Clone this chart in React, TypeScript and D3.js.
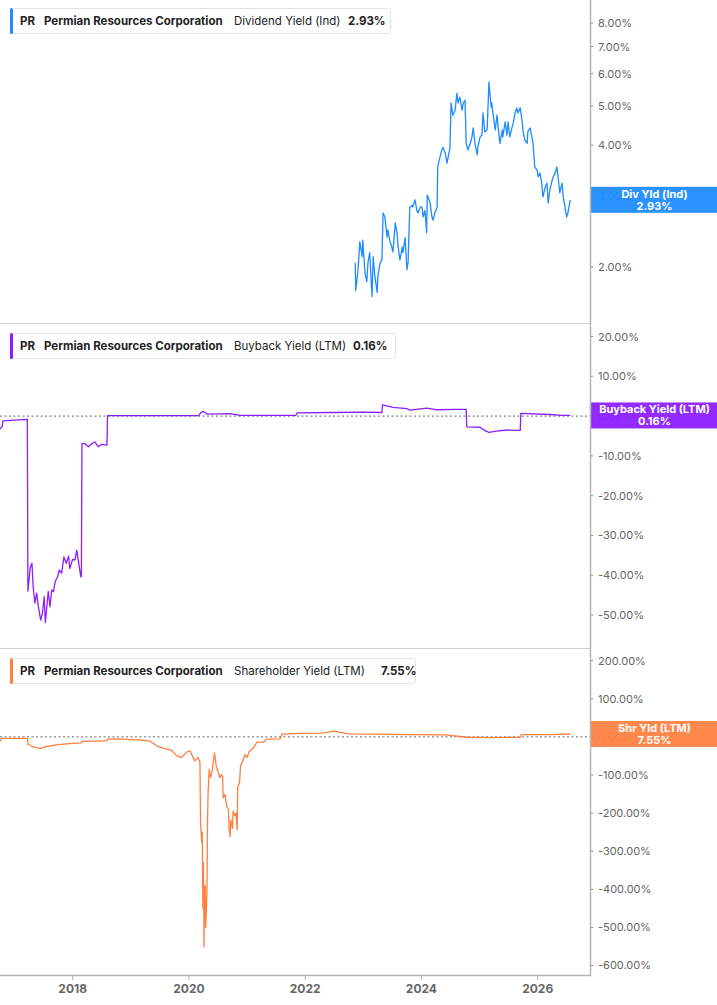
import React from "react";
import * as d3 from "d3";

// ---------- DATA ----------
const xTickYears = [2018, 2020, 2022, 2024, 2026];

const divTicks = [2, 3, 4, 5, 6, 7, 8];
const bbTicks = [20, 10, 0, -10, -20, -30, -40, -50];
const shTicks = [200, 100, 0, -100, -200, -300, -400, -500, -600];

const divYears = [2022.86, 2022.87, 2022.91, 2022.94, 2022.98, 2022.99, 2023.03, 2023.06, 2023.08, 2023.11, 2023.15, 2023.17, 2023.2, 2023.24, 2023.25, 2023.29, 2023.32, 2023.34, 2023.37, 2023.41, 2023.42, 2023.46, 2023.49, 2023.51, 2023.55, 2023.58, 2023.6, 2023.63, 2023.67, 2023.68, 2023.72, 2023.75, 2023.77, 2023.8, 2023.84, 2023.85, 2023.89, 2023.92, 2023.94, 2023.98, 2024.01, 2024.03, 2024.06, 2024.09, 2024.1, 2024.15, 2024.18, 2024.2, 2024.23, 2024.27, 2024.28, 2024.32, 2024.35, 2024.37, 2024.41, 2024.44, 2024.46, 2024.49, 2024.51, 2024.54, 2024.58, 2024.61, 2024.63, 2024.66, 2024.7, 2024.72, 2024.75, 2024.77, 2024.8, 2024.84, 2024.87, 2024.89, 2024.92, 2024.96, 2024.97, 2025.01, 2025.04, 2025.06, 2025.09, 2025.13, 2025.15, 2025.16, 2025.2, 2025.21, 2025.23, 2025.27, 2025.3, 2025.32, 2025.35, 2025.39, 2025.4, 2025.44, 2025.47, 2025.49, 2025.52, 2025.56, 2025.58, 2025.61, 2025.64, 2025.66, 2025.7, 2025.73, 2025.75, 2025.78, 2025.82, 2025.83, 2025.87, 2025.9, 2025.92, 2025.95, 2025.99, 2026.01, 2026.04, 2026.07, 2026.09, 2026.13, 2026.16, 2026.18, 2026.21, 2026.25, 2026.26, 2026.3, 2026.33, 2026.35, 2026.38, 2026.42, 2026.44, 2026.47, 2026.5, 2026.52, 2026.56];
const divYield = [2.05, 1.75, 1.97, 2.31, 2.12, 2.33, 1.93, 1.84, 2.05, 2.17, 1.69, 2.12, 1.89, 1.73, 1.89, 2.05, 2.08, 2.72, 2.66, 2.37, 2.47, 2.31, 2.24, 2.18, 2.57, 2.43, 2.24, 2.08, 2.24, 2.17, 2.36, 1.97, 2.05, 2.81, 2.84, 2.81, 2.93, 2.76, 2.72, 2.81, 2.81, 2.66, 2.76, 2.43, 3.01, 2.88, 2.66, 2.61, 2.72, 2.81, 3.53, 3.74, 3.89, 3.95, 3.82, 3.61, 3.74, 3.93, 5.08, 4.74, 4.88, 5.37, 5.08, 5.25, 4.88, 5.08, 5.16, 4.04, 3.89, 4.04, 4.19, 4.41, 4.04, 3.78, 3.95, 4.19, 4.23, 4.8, 4.31, 4.36, 5.16, 5.72, 4.96, 5.08, 4.8, 4.36, 4.74, 4.43, 4.04, 4.36, 4.19, 4.56, 4.23, 4.56, 4.19, 4.43, 4.53, 4.8, 4.94, 4.8, 4.94, 4.61, 4.31, 4.11, 4.04, 4.31, 4.41, 4.19, 4.04, 3.53, 3.47, 3.34, 3.41, 3.22, 2.98, 3.15, 3.22, 2.88, 3.1, 3.28, 3.32, 3.41, 3.53, 3.34, 3.05, 3.22, 2.98, 2.81, 2.66, 2.72, 2.93];

const bbYears = [2016.75, 2016.79, 2016.8, 2017.0, 2017.22, 2017.23, 2017.25, 2017.27, 2017.3, 2017.32, 2017.35, 2017.38, 2017.41, 2017.45, 2017.48, 2017.51, 2017.53, 2017.58, 2017.61, 2017.64, 2017.67, 2017.7, 2017.74, 2017.77, 2017.81, 2017.85, 2017.89, 2017.93, 2017.95, 2018.0, 2018.04, 2018.07, 2018.1, 2018.14, 2018.15, 2018.16, 2018.21, 2018.27, 2018.33, 2018.38, 2018.44, 2018.5, 2018.59, 2018.6, 2020.17, 2020.2, 2020.24, 2020.28, 2020.31, 2020.71, 2020.88, 2021.84, 2021.86, 2022.48, 2023.0, 2023.32, 2023.33, 2023.51, 2023.75, 2023.8, 2024.09, 2024.26, 2024.61, 2024.77, 2024.78, 2025.01, 2025.06, 2025.16, 2025.29, 2025.47, 2025.7, 2025.71, 2026.21, 2026.41, 2026.56];
const bbYield = [-3.3, -2.5, -1.2, -1.0, -0.8, -44, -41.2, -38, -37, -42.9, -47, -44.5, -47.9, -51.3, -49.5, -45.4, -51.9, -44.1, -47.9, -43.7, -44.1, -41.6, -40.4, -38.7, -39.5, -35.4, -37, -35.2, -38.3, -36, -36.2, -33.7, -36.6, -40.4, -40.2, -6.9, -6.9, -7.7, -6.9, -6.5, -7.7, -7.1, -7.3, 0.1, 0.1, 0.8, 1.2, 0.9, 0.5, 0.6, 0.2, 0.2, 0.8, 0.9, 1.0, 0.9, 2.8, 2.2, 1.9, 1.5, 2.0, 1.6, 1.7, 1.7, -2.7, -2.8, -3.4, -4.1, -3.8, -3.5, -3.6, 0.7, 0.4, 0.2, 0.16];

const shYears = [2016.75, 2016.78, 2017.22, 2017.23, 2017.27, 2017.33, 2017.4, 2017.45, 2017.52, 2017.6, 2017.7, 2017.85, 2018.0, 2018.15, 2018.16, 2018.4, 2018.59, 2018.6, 2018.8, 2019.0, 2019.15, 2019.33, 2019.45, 2019.59, 2019.7, 2019.79, 2019.88, 2019.96, 2020.02, 2020.1, 2020.16, 2020.19, 2020.2, 2020.22, 2020.23, 2020.24, 2020.25, 2020.26, 2020.27, 2020.28, 2020.29, 2020.31, 2020.32, 2020.33, 2020.35, 2020.37, 2020.4, 2020.44, 2020.47, 2020.51, 2020.53, 2020.56, 2020.58, 2020.59, 2020.62, 2020.65, 2020.68, 2020.69, 2020.71, 2020.72, 2020.75, 2020.76, 2020.79, 2020.81, 2020.83, 2020.84, 2020.87, 2020.89, 2020.93, 2020.96, 2021.0, 2021.04, 2021.11, 2021.17, 2021.28, 2021.34, 2021.57, 2021.6, 2021.91, 2022.3, 2022.5, 2022.6, 2022.75, 2023.2, 2023.8, 2024.4, 2024.8, 2025.2, 2025.7, 2025.72, 2026.2, 2026.56];
const shYield = [-12, -4, -4, -20, -22, -27, -29, -30, -26, -24, -21, -19, -17, -16, -12, -11, -10, -6, -5, -7, -8, -11, -24, -31, -35, -50, -54, -40, -37, -63, -54, -67, -225, -278, -250, -450, -330, -551, -400, -390, -500, -410, -225, -146, -85, -107, -90, -42, -77, -95, -107, -99, -105, -160, -151, -182, -190, -240, -262, -218, -240, -195, -207, -200, -244, -131, -122, -74, -63, -47, -54, -38, -29, -14, -14, -6, -5, 7, 9, 10, 15, 12, 8, 7, 6, 5, -1, -2, -1, 6, 6, 7.55];

// ---------- LAYOUT ----------
const W = 717;
const H = 1005;
const PR = 590;
const FONT = "Inter, 'Noto Sans', sans-serif";

const x = d3.scaleLinear().domain([2016.75, 2026.9]).range([0, PR]);

const yDiv = d3.scaleLog().domain([1.455, 9.12]).range([323, 0]);
const yBB = d3.scaleLinear().domain([-58.3, 22.9]).range([648, 325]);
const ySH = d3.scaleLinear().domain([-625, 228]).range([975, 650]);

type Panel = {
  id: string;
  top: number;
  bottom: number;
  y: any;
  years: number[];
  vals: number[];
  ticks: number[];
  color: string;
  boxColor: string;
  metric: string;
  last: string;
  tagName: string;
  legendW: number;
  metricW: number;
  zeroLine: boolean;
};

const panels: Panel[] = [
  { id: "p1", top: 0, bottom: 323, y: yDiv, years: divYears, vals: divYield, ticks: divTicks, color: "#1e8cff", boxColor: "#1e8cff", metric: "Dividend Yield (Ind)", last: "2.93%", tagName: "Div Yld (Ind)", legendW: 380, metricW: 114, zeroLine: false },
  { id: "p2", top: 325, bottom: 648, y: yBB, years: bbYears, vals: bbYield, ticks: bbTicks, color: "#8c1eff", boxColor: "#8c1eff", metric: "Buyback Yield (LTM)", last: "0.16%", tagName: "Buyback Yield (LTM)", legendW: 385, metricW: 119, zeroLine: true },
  { id: "p3", top: 650, bottom: 975, y: ySH, years: shYears, vals: shYield, ticks: shTicks, color: "#ff7f3f", boxColor: "#ff8142", metric: "Shareholder Yield (LTM)", last: "7.55%", tagName: "Shr Yld (LTM)", legendW: 405, metricW: 147, zeroLine: true },
];

export default function App() {
  return (
    <div style={{ position: "absolute", left: 0, top: 0 }}>
      <svg width={W} height={H} style={{ display: "block", fontFamily: FONT }}>
        <rect x={0} y={0} width={W} height={H} fill="#fff" />
        <defs>
          {panels.map((p) => (
            <clipPath id={"clip-" + p.id} key={p.id}>
              <rect x={0} y={p.top} width={PR} height={p.bottom - p.top} />
            </clipPath>
          ))}
        </defs>

        {/* separators */}
        <line x1={0} x2={PR} y1={323.5} y2={323.5} stroke="#d0d0d0" />
        <line x1={0} x2={PR} y1={648.5} y2={648.5} stroke="#d0d0d0" />

        {panels.map((p) => {
          const data = p.years.map((yr, i) => [yr, p.vals[i]] as [number, number]);
          const line = d3
            .line<[number, number]>()
            .x((d) => x(d[0]))
            .y((d) => p.y(d[1]));
          const lastV = p.vals[p.vals.length - 1];
          const cy = p.y(lastV);
          return (
            <g key={p.id}>
              {/* ticks */}
              {p.ticks.map((t) => (
                <g key={t}>
                  <line x1={PR} x2={PR + 3} y1={p.y(t)} y2={p.y(t)} stroke="#888" />
                  <text x={PR + 8} y={p.y(t) + 4} fontSize={11} fill="#666">
                    {t.toFixed(2) + "%"}
                  </text>
                </g>
              ))}
              {p.zeroLine && (
                <line x1={0} x2={PR} y1={p.y(0)} y2={p.y(0)} stroke="#666" strokeDasharray="2,2.5" strokeWidth={1} />
              )}
              <path d={line(data) || ""} fill="none" stroke={p.color} strokeWidth={1.3} strokeLinejoin="round" clipPath={`url(#clip-${p.id})`} />
              {/* end tag */}
              <rect x={PR} y={cy - 13} width={W - PR} height={26} fill={p.boxColor} fillOpacity={0.94} />
              <text x={(PR + W) / 2 + 1} y={cy - 2} fontSize={11} fontWeight={700} fill="#fff" textAnchor="middle">
                {p.tagName}
              </text>
              <text x={(PR + W) / 2 + 1} y={cy + 10} fontSize={11} fontWeight={700} fill="#fff" textAnchor="middle">
                {p.last}
              </text>
              {/* legend */}
              <rect x={10.5} y={p.top + 8.5} width={p.legendW} height={25} rx={3} fill="#fff" stroke="#e3e3e3" />
              <rect x={10} y={p.top + 8} width={3} height={26} rx={1.5} fill={p.color} />
              <text y={p.top + 25} fontSize={11.5} fill="#222">
                <tspan x={20} fontWeight={700}>PR</tspan>
                <tspan x={44} fontWeight={700}>Permian Resources Corporation</tspan>
                <tspan x={234} fontWeight={400}>{p.metric}</tspan>
                <tspan x={234 + p.metricW} fontWeight={700}>{p.last}</tspan>
              </text>
            </g>
          );
        })}

        {/* axes frame */}
        <line x1={PR + 0.5} x2={PR + 0.5} y1={0} y2={976} stroke="#b5b5b5" strokeWidth={1.5} />
        <line x1={0} x2={PR + 1} y1={975.5} y2={975.5} stroke="#b5b5b5" strokeWidth={1.5} />
        {xTickYears.map((yr) => (
          <g key={yr}>
            <line x1={x(yr)} x2={x(yr)} y1={976} y2={980} stroke="#b5b5b5" />
            <text x={x(yr)} y={993} fontSize={12} fontWeight={700} fill="#666" textAnchor="middle">
              {yr}
            </text>
          </g>
        ))}
      </svg>
    </div>
  );
}
